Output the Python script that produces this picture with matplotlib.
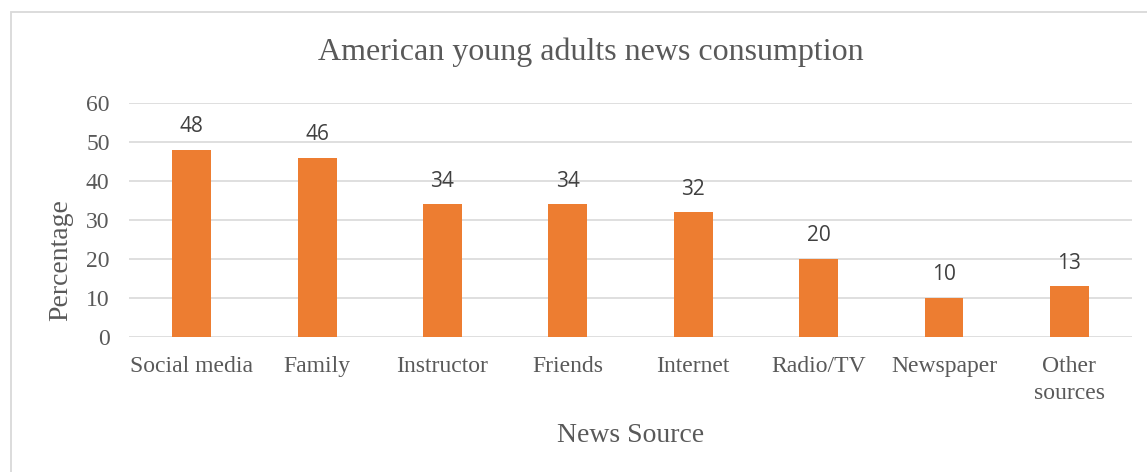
import matplotlib
matplotlib.use("Agg")
import matplotlib.pyplot as plt
from matplotlib.patches import Rectangle

categories = ["Social media", "Family", "Instructor", "Friends", "Internet",
              "Radio/TV", "Newspaper", "Other\nsources"]
percentages = [48, 46, 34, 34, 32, 20, 10, 13]
y_ticks = [0, 10, 20, 30, 40, 50, 60]

serif = ["Liberation Serif", "DejaVu Serif"]
sans = ["Open Sans", "DejaVu Sans"]
bar_color = "#ED7D31"
text_grey = "#595959"
grid_grey = "#D9D9D9"

fig = plt.figure(figsize=(11.47, 4.72), dpi=100)
ax = fig.add_axes([0.1125, 0.286, 0.8745, 0.496])

# Chart area frame
fig.patches.append(Rectangle((11 / 1147, -0.05), 1.2, 1 - 12 / 472 + 0.05,
                             transform=fig.transFigure, fill=False,
                             edgecolor=grid_grey, linewidth=1.3))

x = range(len(categories))
bars = ax.bar(x, percentages, width=0.31, color=bar_color, zorder=3)
for xi, v in zip(x, percentages):
    ax.annotate(str(v), (xi, v), xytext=(0, 9), textcoords="offset points",
                ha="center", va="bottom", fontsize=15, color="#404040",
                family=sans)

ax.set_xlim(-0.5, len(categories) - 0.5)
ax.set_ylim(0, 60)
ax.set_yticks(y_ticks)
ax.set_xticks(list(x))
ax.set_xticklabels(categories, family=serif, fontsize=17, color=text_grey,
                   linespacing=1.38)
for lbl in ax.get_yticklabels():
    lbl.set_family(serif)
    lbl.set_fontsize(17)
    lbl.set_color(text_grey)

ax.tick_params(axis="both", length=0)
ax.tick_params(axis="x", pad=13.5)
ax.tick_params(axis="y", pad=14)
ax.grid(axis="y", color=grid_grey, linewidth=1.2, zorder=0)
for s in ax.spines.values():
    s.set_visible(False)

fig.text(591 / 1147, 1 - 52 / 472, "American young adults news consumption",
         family=serif, fontsize=23, color=text_grey, ha="center", va="center")
ax.set_xlabel("News Source", family=serif, fontsize=20, color=text_grey)
ax.xaxis.set_label_coords(0.5, -0.42)
ax.xaxis.label.set_va("center")
ax.set_ylabel("Percentage", family=serif, fontsize=20, color=text_grey)
ax.yaxis.set_label_coords(-0.0685, 1 - (260 - 103) / 234)
ax.yaxis.label.set_va("center")

fig.savefig("out.png", dpi=100)
